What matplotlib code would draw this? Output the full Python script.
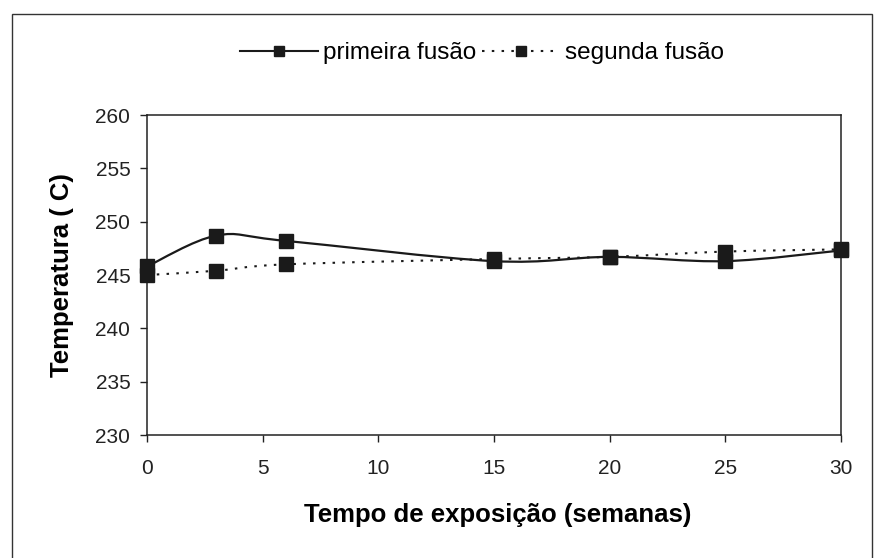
import numpy as np
import matplotlib
matplotlib.use('Agg')
import matplotlib.pyplot as plt
from matplotlib.path import Path
from matplotlib.patches import PathPatch, Rectangle
from matplotlib.lines import Line2D

plt.rcParams['font.family'] = ['Liberation Sans', 'DejaVu Sans']

# data
semanas = [0, 3, 6, 15, 20, 25, 30]
primeira = [245.8, 248.7, 248.2, 246.3, 246.7, 246.3, 247.3]
segunda = [245.0, 245.4, 246.0, 246.5, 246.7, 247.2, 247.4]
xticks = [0, 5, 10, 15, 20, 25, 30]
yticks = [230, 235, 240, 245, 250, 255, 260]

INK = '#1a1a1a'
DOTS = (0, (1.2, 3.5))


def smooth_path(xs, ys):
    # Excel-like smoothed line: Catmull-Rom segments as cubic Bezier
    pts = list(zip(xs, ys))
    verts = [pts[0]]
    codes = [Path.MOVETO]
    n = len(pts)
    for i in range(n - 1):
        p0 = pts[i - 1] if i > 0 else pts[i]
        p1, p2 = pts[i], pts[i + 1]
        p3 = pts[i + 2] if i + 2 < n else pts[i + 1]
        c1 = (p1[0] + (p2[0] - p0[0]) / 6, p1[1] + (p2[1] - p0[1]) / 6)
        c2 = (p2[0] - (p3[0] - p1[0]) / 6, p2[1] - (p3[1] - p1[1]) / 6)
        verts += [c1, c2, p2]
        codes += [Path.CURVE4] * 3
    return Path(verts, codes)


fig = plt.figure(figsize=(8.75, 5.58), dpi=100)
# outer chart frame (bottom edge runs off the page, as in the scan)
fig.patches.append(Rectangle((12 / 875, -0.02), 860 / 875, 0.995, transform=fig.transFigure,
                             fill=False, lw=1.0, ec='#333333'))

ax = fig.add_axes([0.168, 0.2204, 0.793, 0.5735])
ax.add_patch(PathPatch(smooth_path(semanas, primeira), fill=False, lw=1.6, ec=INK))
ax.add_patch(PathPatch(smooth_path(semanas, segunda), fill=False, lw=1.5, ec=INK, linestyle=DOTS))
ax.plot(semanas, primeira, 's', color=INK, ms=9.5, clip_on=False, zorder=3)
ax.plot(semanas, segunda, 's', color=INK, ms=9.5, clip_on=False, zorder=3)

ax.set_xlim(0, 30)
ax.set_ylim(230, 260)
ax.set_xticks(xticks)
ax.set_yticks(yticks)
ax.tick_params(labelsize=15, length=5, width=1, colors='#222222')
ax.tick_params(axis='x', pad=12)
ax.tick_params(axis='y', pad=7)
for s in ax.spines.values():
    s.set_linewidth(1.1)
    s.set_color('#222222')

ax.set_xlabel('Tempo de exposição (semanas)', fontsize=18.5, fontweight='bold', va='center')
ax.xaxis.set_label_coords(0.505, -0.25)
ax.set_ylabel('Temperatura ( C)', fontsize=18.5, fontweight='bold', va='center')
ax.yaxis.set_label_coords(-0.1225, 0.5)

h1 = Line2D([], [], color=INK, lw=1.5, marker='s', ms=7)
h2 = Line2D([], [], color=INK, lw=1.5, ls=DOTS, marker='s', ms=7)
fig.legend([h1, h2], ['primeira fusão', 'segunda fusão'], loc='center',
           bbox_to_anchor=(0.551, 0.905), ncol=2, frameon=False, fontsize=17.5,
           handlelength=3.2, columnspacing=0.25, handletextpad=0.2)

fig.savefig('out.png', dpi=100)
